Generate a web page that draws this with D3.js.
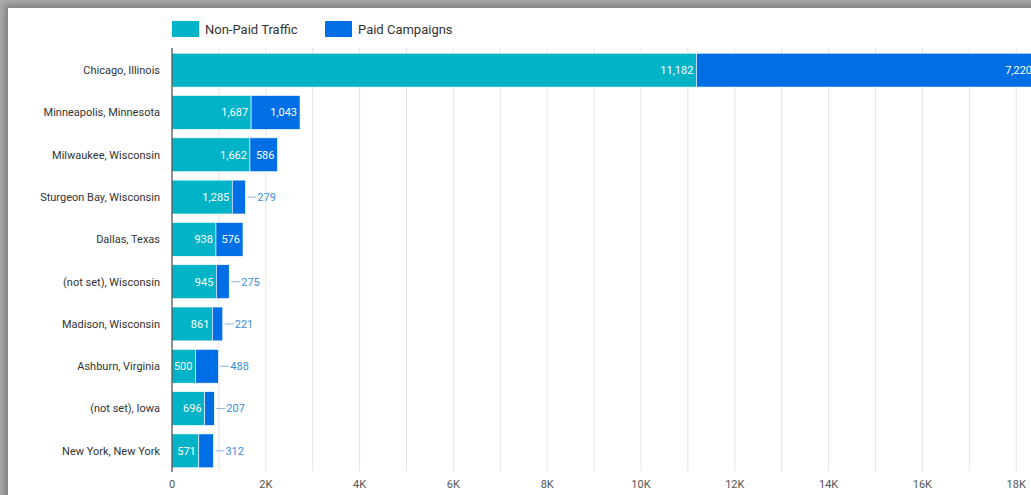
<!DOCTYPE html>
<html>
<head>
<meta charset="utf-8">
<script src="https://cdn.jsdelivr.net/npm/d3@7"></script>
<style>
  html, body { margin: 0; padding: 0; }
  body { width: 1031px; height: 495px; overflow: hidden; background: #a8a8a8; position: relative; }
  #card { position: absolute; left: 8px; top: 8px; width: 1040px; height: 500px; background: #fff;
          box-shadow: -3px -3px 6px rgba(0,0,0,0.25); }
  svg { position: absolute; left: 0; top: 0; font-family: Roboto, "Noto Sans", sans-serif; }
</style>
</head>
<body>
<div id="card"></div>
<svg id="chart" width="1031" height="495"></svg>
<script>
// ---- DATA ----
const cities = [
  "Chicago, Illinois",
  "Minneapolis, Minnesota",
  "Milwaukee, Wisconsin",
  "Sturgeon Bay, Wisconsin",
  "Dallas, Texas",
  "(not set), Wisconsin",
  "Madison, Wisconsin",
  "Ashburn, Virginia",
  "(not set), Iowa",
  "New York, New York"
];
const nonPaid = [11182, 1687, 1662, 1285, 938, 945, 861, 500, 696, 571];
const paid = [7220, 1043, 586, 279, 576, 275, 221, 488, 207, 312];
const seriesNames = ["Non-Paid Traffic", "Paid Campaigns"];
const seriesColors = ["#00b3c6", "#006fe6"];
const tickValues = [0, 2000, 4000, 6000, 8000, 10000, 12000, 14000, 16000, 18000];
const tickLabels = ["0", "2K", "4K", "6K", "8K", "10K", "12K", "14K", "16K", "18K"];

const svg = d3.select("#chart");

const x = d3.scaleLinear().domain([0, 20000]).range([172, 1110]);
const y = d3.scaleBand().domain(cities).range([49, 472]).paddingInner(0.2).paddingOuter(0.1);

// ---- GRID ----
const gridVals = d3.range(1000, 20001, 1000);
svg.append("g").selectAll("line").data(gridVals).enter().append("line")
  .attr("x1", d => x(d)).attr("x2", d => x(d))
  .attr("y1", 48).attr("y2", 471)
  .attr("stroke", "#e4e4e4").attr("stroke-width", 1);

// ---- AXIS LABELS ----
svg.append("g").selectAll("text").data(tickValues).enter().append("text")
  .attr("x", d => x(d)).attr("y", 488)
  .attr("text-anchor", "middle")
  .attr("font-size", "11px")
  .attr("fill", "#555")
  .text((d, i) => tickLabels[i]);

// ---- CATEGORY LABELS ----
svg.append("g").selectAll("text").data(cities).enter().append("text")
  .attr("x", 160).attr("y", d => y(d) + y.bandwidth() / 2)
  .attr("dy", "0.35em")
  .attr("text-anchor", "end")
  .attr("font-size", "11px")
  .attr("fill", "#333")
  .text(d => d);

// ---- STACKED BARS ----
const rows = cities.map((c, i) => ({ city: c, values: [nonPaid[i], paid[i]] }));
const segs = [];
rows.forEach(r => {
  let start = 0;
  r.values.forEach((v, s) => {
    segs.push({ city: r.city, s: s, v: v, x0: start, x1: start + v });
    start += v;
  });
});

const barG = svg.append("g");
barG.selectAll("rect").data(segs).enter().append("rect")
  .attr("x", d => x(d.x0))
  .attr("y", d => y(d.city))
  .attr("width", d => x(d.x1) - x(d.x0))
  .attr("height", y.bandwidth())
  .attr("fill", d => seriesColors[d.s])
  .attr("stroke", "#fff").attr("stroke-width", 0.6);

// value labels
const fmt = d3.format(",");
const lblG = svg.append("g").attr("font-size", "11px");
segs.forEach(d => {
  const w = x(d.x1) - x(d.x0);
  const txt = fmt(d.v);
  const tw = txt.length * 6.2 - (txt.includes(",") ? 3 : 0);
  const cy = y(d.city) + y.bandwidth() / 2;
  if (d.s === 0 || tw + 6 <= w) {
    lblG.append("text")
      .attr("x", x(d.x1) - 3).attr("y", cy).attr("dy", "0.35em")
      .attr("text-anchor", "end").attr("fill", "#fff")
      .text(txt);
  } else {
    lblG.append("line")
      .attr("x1", x(d.x1) + 2).attr("x2", x(d.x1) + 11)
      .attr("y1", cy).attr("y2", cy)
      .attr("stroke", "#8fb4e0").attr("stroke-width", 1);
    lblG.append("text")
      .attr("x", x(d.x1) + 12).attr("y", cy).attr("dy", "0.35em")
      .attr("fill", "#3a8ee0")
      .text(txt);
  }
});

// zero axis line
svg.append("line")
  .attr("x1", x(0)).attr("x2", x(0))
  .attr("y1", 48).attr("y2", 472)
  .attr("stroke", "#444").attr("stroke-width", 1.2);

// ---- LEGEND ----
const legendX = [172, 325];
const leg = svg.append("g");
seriesNames.forEach((n, i) => {
  leg.append("rect")
    .attr("x", legendX[i]).attr("y", 21)
    .attr("width", 27).attr("height", 16)
    .attr("fill", seriesColors[i]);
  leg.append("text")
    .attr("x", legendX[i] + 33).attr("y", 29).attr("dy", "0.35em")
    .attr("font-size", "13px").attr("fill", "#333")
    .text(n);
});
</script>
</body>
</html>
